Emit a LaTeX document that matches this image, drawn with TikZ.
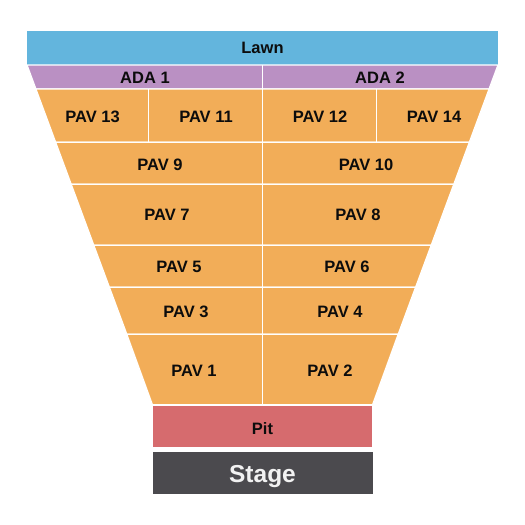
\documentclass[tikz,border=0pt]{standalone}
\usepackage{fontspec}
\setmainfont{Liberation Sans}
\definecolor{lawnc}{RGB}{99,181,221}
\definecolor{adac}{RGB}{186,144,195}
\definecolor{pavc}{RGB}{242,173,88}
\definecolor{pitc}{RGB}{214,107,110}
\definecolor{stagec}{RGB}{75,74,78}
\definecolor{txtc}{RGB}{12,12,12}
\begin{document}
\begin{tikzpicture}[x=1pt,y=-1pt,
  sec/.style={draw=white,line width=1.3pt,line join=miter},
  lbl/.style={font=\fontsize{16.5}{19}\selectfont\bfseries,text=txtc,inner sep=0pt},
  biglbl/.style={font=\fontsize{24.5}{28}\selectfont\bfseries,text=white!95!black,inner sep=0pt}]
\useasboundingbox (0,0) rectangle (525,525);
% Lawn
\fill[lawnc] (27,31) rectangle (498,65);
% ADA
\filldraw[adac,sec] (27,65) -- (498,65) -- (489.1,89) -- (35.9,89) -- cycle;
\draw[sec] (262.5,65) -- (262.5,89);
% PAV rows
\filldraw[pavc,sec] (35.9,89) -- (489.1,89) -- (469.35,142.3) -- (55.65,142.3) -- cycle;
\filldraw[pavc,sec] (55.65,142.3) -- (469.35,142.3) -- (453.8,184.3) -- (71.2,184.3) -- cycle;
\filldraw[pavc,sec] (71.2,184.3) -- (453.8,184.3) -- (431.2,245.3) -- (93.8,245.3) -- cycle;
\filldraw[pavc,sec] (93.8,245.3) -- (431.2,245.3) -- (415.6,287.3) -- (109.4,287.3) -- cycle;
\filldraw[pavc,sec] (109.4,287.3) -- (415.6,287.3) -- (398.2,334.3) -- (126.8,334.3) -- cycle;
\filldraw[pavc,sec] (126.8,334.3) -- (398.2,334.3) -- (372.5,405) -- (152.5,405) -- cycle;
% dividers
\draw[sec] (262.5,89) -- (262.5,405);
\draw[sec] (148.7,89) -- (148.7,142.3);
\draw[sec] (376.3,89) -- (376.3,142.3);
% Pit and Stage
\filldraw[pitc,sec] (152.5,405) rectangle (372.5,448);
\fill[stagec] (152.5,452.3) rectangle (372.5,493.7);
% labels
\node[lbl] (lawn) at (262.5,48) {Lawn};
\node[lbl] (ada1) at (145,77.5) {ADA 1};
\node[lbl] (ada2) at (380,77.5) {ADA 2};
\node[lbl] (p13) at (92.5,117) {PAV 13};
\node[lbl] (p11) at (206,117) {PAV 11};
\node[lbl] (p12) at (320,117) {PAV 12};
\node[lbl] (p14) at (434,117) {PAV 14};
\node[lbl] (p9) at (160,164.5) {PAV 9};
\node[lbl] (p10) at (366,164.5) {PAV 10};
\node[lbl] (p7) at (167,215) {PAV 7};
\node[lbl] (p8) at (358,215) {PAV 8};
\node[lbl] (p5) at (179,267) {PAV 5};
\node[lbl] (p6) at (347,267) {PAV 6};
\node[lbl] (p3) at (186,311.5) {PAV 3};
\node[lbl] (p4) at (340,311.5) {PAV 4};
\node[lbl] (p1) at (194,371) {PAV 1};
\node[lbl] (p2) at (330,371) {PAV 2};
\node[lbl] (pit) at (262.5,428.5) {Pit};
\node[biglbl,anchor=base] (stage) at (262.5,482.5) {Stage};
\end{tikzpicture}
\end{document}
